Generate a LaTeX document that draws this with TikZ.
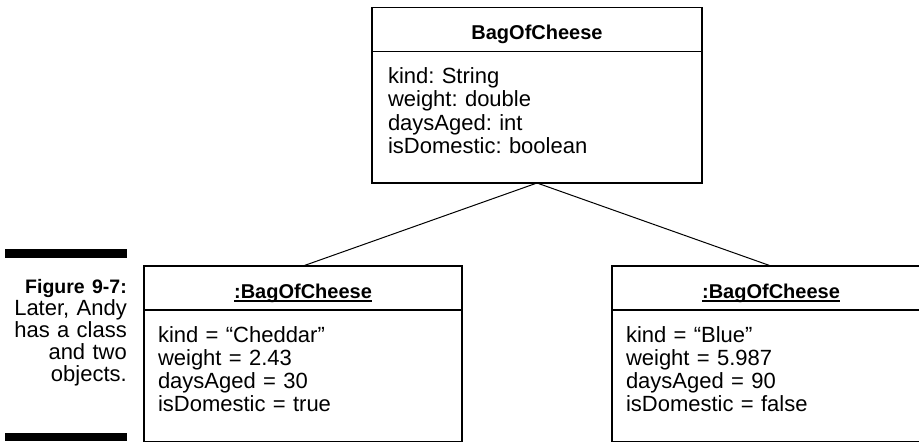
\documentclass[tikz,border=0pt]{standalone}
\usepackage{fontspec}
\setmainfont{Liberation Sans}
\usetikzlibrary{positioning}
\frenchspacing

% underlined object name, rule close under the baseline
\newcommand{\objname}[1]{\setbox0\hbox{#1}\rlap{\rule[-3.7pt]{\wd0}{1.4pt}}\box0}

\begin{document}
\begin{tikzpicture}[
    x=1pt, y=-1pt,
    font=\fontsize{22}{23.3}\selectfont,
    umlbox/.style={draw, line width=1.4pt, outer sep=0pt},
    umlhead/.style={umlbox, inner sep=0pt, text height=32pt, text depth=12pt,
      font=\fontsize{20}{22}\selectfont\bfseries},
    umlbody/.style={umlbox, inner ysep=0pt, align=left,
      text height=32pt, text depth=99.5pt},
    assoc/.style={line width=1pt},
    capbar/.style={fill=black},
  ]
\useasboundingbox (0,0) rectangle (919,442);

% ===== Class =====
\node[umlhead, minimum width=330pt] (clsHead) at (537,29.5) {BagOfCheese};
\node[umlbody, below=0pt of clsHead, text width=298pt, inner xsep=16pt] (clsBody)
  {kind: String\\weight: double\\daysAged: int\\isDomestic: boolean};

% ===== Objects =====
\node[umlhead, minimum width=318pt] (cheddarHead) at (303,288) {\objname{:BagOfCheese}};
\node[umlbody, below=0pt of cheddarHead, text width=290pt, inner xsep=14pt] (cheddarBody)
  {kind = “Cheddar”\\weight = 2.43\\daysAged = 30\\isDomestic = true};

\node[umlhead, minimum width=318pt, right=150pt of cheddarHead] (blueHead) {\objname{:BagOfCheese}};
\node[umlbody, below=0pt of blueHead, text width=290pt, inner xsep=14pt] (blueBody)
  {kind = “Blue”\\weight = 5.987\\daysAged = 90\\isDomestic = false};

% Links
\draw[assoc] (clsBody.south) -- (cheddarHead.north);
\draw[assoc] (clsBody.south) -- (blueHead.north);

% ===== Caption =====
\fill[capbar] (5,249) rectangle (127,258);
\node[anchor=base east, align=right, text width=130pt, inner sep=0pt,
  font=\fontsize{22}{22}\selectfont] (caption) at (127,293.3)
  {\textbf{\fontsize{19.5}{22}\selectfont Figure 9-7:}\\Later, Andy\\has a class\\and two\\objects.};
\fill[capbar] (5,433) rectangle (127,441);

\end{tikzpicture}
\end{document}
